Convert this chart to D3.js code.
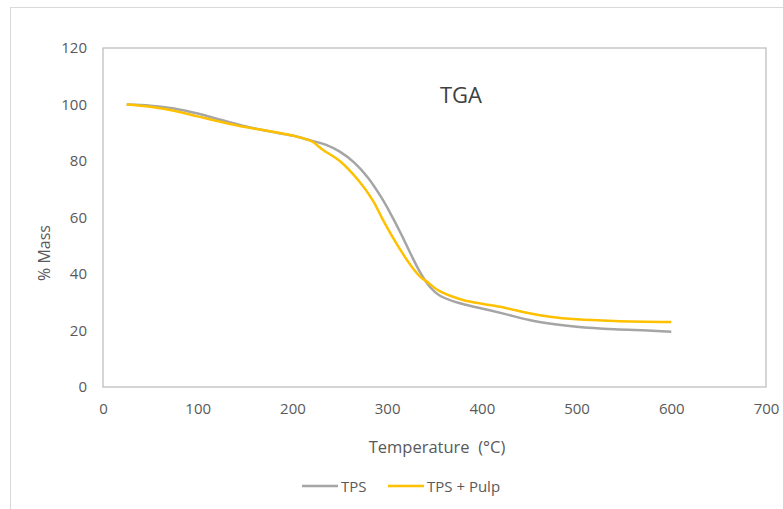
<!DOCTYPE html>
<html>
<head>
<meta charset="utf-8">
<script src="https://cdn.jsdelivr.net/npm/d3@7"></script>
<style>
  body { margin: 0; background: #fff; }
  text { font-family: "Open Sans", sans-serif; fill: #595959; }
</style>
</head>
<body>
<script>
const width = 783;
const height = 509;

// TGA data: temperature (°C) and % mass
const tpsTemp = [25, 50, 75, 100, 125, 150, 175, 200, 220, 235, 250, 265, 280, 295, 305, 315, 325, 335, 345, 355, 375, 400, 425, 450, 475, 500, 540, 575, 600];
const tpsMass = [100, 99.6, 98.6, 96.8, 94.5, 92.3, 90.5, 89, 87.2, 85.8, 83.3, 79.5, 74, 66.5, 60.5, 54, 47, 40.5, 35.5, 32.5, 29.8, 27.8, 25.8, 23.7, 22.3, 21.3, 20.4, 20, 19.6];
const pulpTemp = [25, 50, 75, 100, 125, 150, 175, 200, 220, 232, 250, 270, 285, 295, 305, 315, 325, 335, 342, 355, 380, 400, 425, 450, 472, 500, 540, 600];
const pulpMass = [100, 99.2, 97.8, 95.8, 93.8, 92, 90.6, 89, 87, 84, 80, 73, 66, 59.5, 53.5, 48, 43, 39, 37.3, 34, 30.8, 29.5, 28, 26.1, 24.9, 24, 23.4, 23];

const xTicks = [0, 100, 200, 300, 400, 500, 600, 700];
const yTicks = [0, 20, 40, 60, 80, 100, 120];

const series = [
  { name: "TPS", temp: tpsTemp, mass: tpsMass, color: "#A5A5A5" },
  { name: "TPS + Pulp", temp: pulpTemp, mass: pulpMass, color: "#FFC000" }
];

const margin = { left: 103, right: 17, top: 48, bottom: 122 };

const svg = d3.select("body")
  .append("svg")
  .attr("width", width)
  .attr("height", height);

// chart area frame
svg.append("rect")
  .attr("x", 10.5).attr("y", 7.5)
  .attr("width", width).attr("height", height)
  .attr("fill", "none").attr("stroke", "#d9d9d9");

const x = d3.scaleLinear().domain([0, 700]).range([margin.left, width - margin.right]);
const y = d3.scaleLinear().domain([0, 120]).range([height - margin.bottom, margin.top]);

// plot area border
svg.append("rect")
  .attr("x", x(0)).attr("y", y(120))
  .attr("width", x(700) - x(0)).attr("height", y(0) - y(120))
  .attr("fill", "none").attr("stroke", "#bfbfbf").attr("stroke-width", 1.3);

const xAxis = svg.append("g")
  .attr("transform", `translate(0,${y(0)})`)
  .call(d3.axisBottom(x).tickValues(xTicks).tickSize(0).tickPadding(16));
xAxis.select(".domain").remove();

const yAxis = svg.append("g")
  .attr("transform", `translate(${x(0)},0)`)
  .call(d3.axisLeft(y).tickValues(yTicks).tickSize(0).tickPadding(16));
yAxis.select(".domain").remove();

svg.selectAll(".tick text")
  .style("font-size", "15px")
  .style("fill", "#595959");

const line = d3.line()
  .x(d => x(d[0]))
  .y(d => y(d[1]))
  .curve(d3.curveCatmullRom);

series.forEach(s => {
  svg.append("path")
    .datum(s.temp.map((t, i) => [t, s.mass[i]]))
    .attr("d", line)
    .attr("fill", "none")
    .attr("stroke", s.color)
    .attr("stroke-width", 2.5)
    .attr("stroke-linejoin", "round");
});

// title inside plot
svg.append("text")
  .attr("x", 461).attr("y", 103)
  .attr("text-anchor", "middle")
  .style("font-size", "22px")
  .style("fill", "#404040")
  .text("TGA");

// axis titles
svg.append("text")
  .attr("x", 437).attr("y", 453)
  .attr("text-anchor", "middle")
  .style("font-size", "16.5px")
  .style("white-space", "pre")
  .text("Temperature  (°C)");

svg.append("text")
  .attr("transform", "translate(50,253) rotate(-90)")
  .attr("text-anchor", "middle")
  .style("font-size", "16px")
  .text("% Mass");

// legend
const legend = svg.append("g").attr("transform", "translate(0,486)");
const legendX = [302, 388];
series.forEach((s, i) => {
  legend.append("line")
    .attr("x1", legendX[i]).attr("x2", legendX[i] + 36)
    .attr("stroke", s.color).attr("stroke-width", 2.5);
  legend.append("text")
    .attr("x", legendX[i] + 39).attr("y", 5.5)
    .style("font-size", "15px")
    .text(s.name);
});
</script>
</body>
</html>
